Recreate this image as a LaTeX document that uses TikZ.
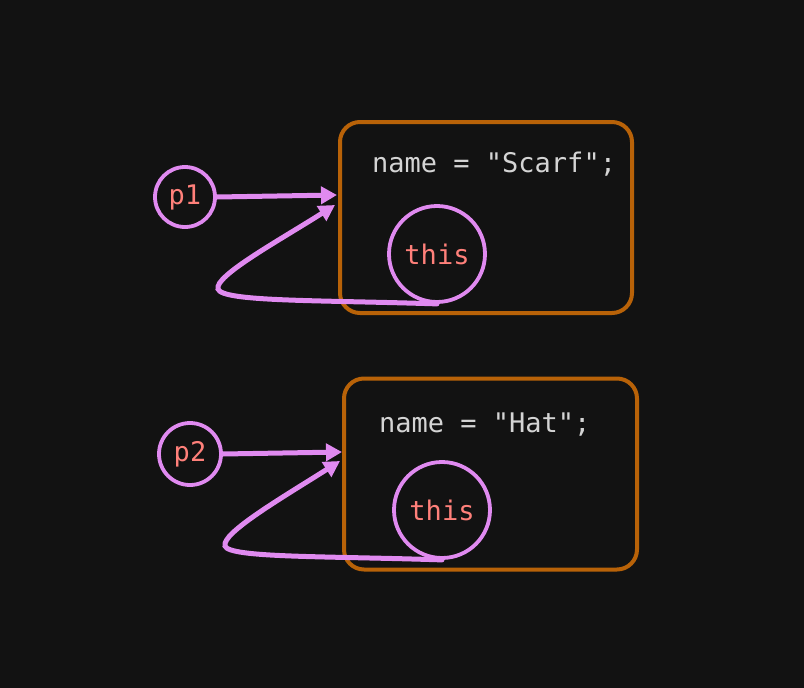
\documentclass[tikz,border=0pt]{standalone}
\usepackage{fontspec}
\setmonofont{DejaVu Sans Mono}
\usetikzlibrary{arrows.meta}
\definecolor{bg}{RGB}{18,18,18}
\definecolor{boxc}{RGB}{184,98,8}
\definecolor{pinkc}{RGB}{224,138,240}
\definecolor{redt}{RGB}{255,128,122}
\definecolor{codet}{RGB}{212,212,212}
\tikzset{
  objbox/.style={draw=boxc, line width=4pt, rounded corners=20pt, minimum width=#1, minimum height=191pt, inner sep=0pt},
  refc/.style={draw=pinkc, line width=3.8pt, circle, minimum size=#1, inner sep=0pt, text=redt, font=\ttfamily\fontsize{27}{32}\selectfont},
  codetxt/.style={text=codet, font=\ttfamily\fontsize{27}{32}\selectfont, inner sep=0pt, anchor=west},
  arr/.style={draw=pinkc, line width=5pt, -{Triangle[length=16pt,width=17pt]}, line cap=round}
}
\begin{document}
\begin{tikzpicture}[x=1pt,y=-1pt]
\fill[bg] (0,0) rectangle (804,688);
\useasboundingbox (0,0) rectangle (804,688);
% boxes
\node[objbox=292pt] (box1) at (486,217.5) {};
\node[objbox=293pt] (box2) at (490.5,474) {};
\node[codetxt] (code1) at (372,164) {name = "Scarf";};
\node[codetxt] (code2) at (379,425) {name = "Hat";};
% circles
\node[refc=60pt] (p1) at (185,197) {p1};
\node[refc=62pt] (p2) at (190,454) {p2};
\node[refc=96pt] (this1) at (437,254) {this};
\node[refc=96pt] (this2) at (442,510) {this};
% targets
\coordinate (t1a) at (337,195);
\coordinate (t1b) at (335,205);
\coordinate (t2a) at (342,452);
\coordinate (t2b) at (340,461);
\coordinate (c1) at (218,289);
\coordinate (c2) at (225,546);
% arrows
\draw[arr] (p1.east) -- (t1a);
\draw[arr] (p2.east) -- (t2a);
\draw[arr] (this1.south) .. controls (320,300) and (222,302) .. (c1) .. controls (214,276) and (280,240) .. (t1b);
\draw[arr] (this2.south) .. controls (325,556) and (229,558) .. (c2) .. controls (221,533) and (285,496) .. (t2b);
\end{tikzpicture}
\end{document}
